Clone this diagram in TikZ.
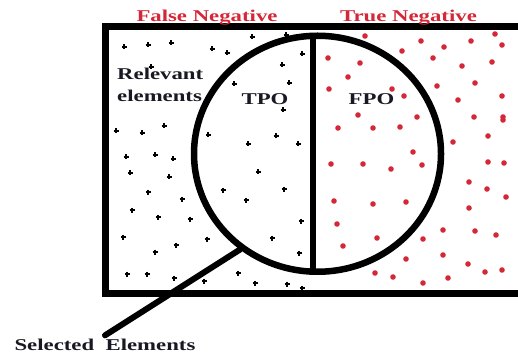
\documentclass[tikz,border=0pt]{standalone}
\usepackage{fontspec}
\setmainfont{Liberation Serif}[FakeStretch=1.38]
\usepackage{xcolor}
\usepackage{tikz}
\usetikzlibrary{shapes.geometric,positioning,calc}
\definecolor{negred}{RGB}{212,40,56}
\definecolor{lbldark}{RGB}{25,25,35}

\begin{document}
\begin{tikzpicture}[
            x=1pt, y=-1pt,
            every node/.style={font=\bfseries\fontsize{16.5}{18}\selectfont, inner sep=0pt},
            frame/.style={line width=7pt},
            selset/.style={draw, ellipse, line width=6.5pt, minimum width=247pt, minimum height=236pt},
            divide/.style={line width=5.5pt},
            pointer/.style={line width=6pt, line cap=round},
            title/.style={text=negred, anchor=base},
            lbl/.style={text=lbldark, anchor=base},
        ]
            \useasboundingbox (0,0) rectangle (518,355);
            % universe of elements
            \draw[frame] (530,26.5) -- (105.5,26.5) -- (105.5,293) -- (530,293);
            \node[title] (fneg) at (207,22) {False Negative};
            \node[title] (tneg) at (408.5,22) {True Negative};
            % relevant elements (black)
            \foreach \x/\y in {124/47,148/45,171/43,212/49,227/53,252/37,286/35,302/54,282/65,289/83,234/84,283/110,151/67,
                               116/131,142/133,164/126,208/135,248/144,276/136,298/144,126/157,155/155,173/159,130/173,169/177,
                               258/172,148/192,182/199,223/190,284/189,246/200,132/210,158/217,190/219,301/221,123/237,207/239,
                               272/238,176/245,155/252,299/253,127/274,147/274,174/278,204/281,238/273,255/283,287/284,302/288}
                \draw[line width=1.2pt] (\x-2.5,\y) -- (\x+2.5,\y) (\x,\y-2.5) -- (\x,\y+2.5);
            % non relevant elements (red)
            \foreach \x/\y in {365/36,421/41,444/47,471/41,495/34,502/45,402/51,328/58,360/63,433/58,462/66,492/62,348/77,412/77,
                               437/86,475/83,329/89,392/89,404/96,458/100,502/96,358/115,417/117,474/117,503/117,503/120,
                               338/128,373/128,400/127,488/136,453/142,413/152,331/164,363/164,391/169,422/165,488/162,504/163,
                               469/182,487/189,506/197,334/201,373/204,406/202,469/208,337/224,443/230,475/231,496/235,377/238,
                               423/239,343/246,406/259,443/255,468/264,485/272,502/270,375/273,393/277,423/283,448/278}
                \fill[negred] (\x,\y) circle (2.8pt);
            % selected elements
            \node[selset] (sel) at (317.5,153.75) {};
            \coordinate (divtop) at (313,35);
            \coordinate (divbot) at (313,273);
            \draw[divide] (divtop) -- (divbot);
            \node[lbl, anchor=base west] (rel) at (117,80) {Relevant};
            \node[lbl, anchor=base west] (rel2) at (117,102) {elements};
            \node[lbl] (tpo) at (265,105) {TPO};
            \node[lbl] (fpo) at (371.5,105) {FPO};
            \node[lbl] (selLbl) at (105,350) {Selected\ \ Elements};
            \draw[pointer] (sel.231.5) -- ([yshift=3pt]selLbl.north);
        \end{tikzpicture}
\end{document}
